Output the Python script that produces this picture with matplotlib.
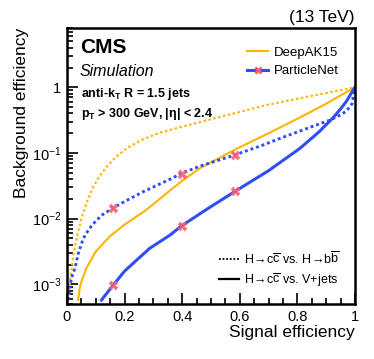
import numpy as np
import matplotlib
matplotlib.use("Agg")
import matplotlib.pyplot as plt
from matplotlib.lines import Line2D
from matplotlib.ticker import LogLocator, MultipleLocator, NullFormatter

plt.rcParams['font.family'] = ['Liberation Sans', 'DejaVu Sans']
plt.rcParams['mathtext.fontset'] = 'custom'
plt.rcParams['mathtext.rm'] = 'Liberation Sans'
plt.rcParams['mathtext.it'] = 'Liberation Sans:italic'
plt.rcParams['mathtext.bf'] = 'Liberation Sans:bold'

# values, y given as log10(efficiency)
# DeepAK15, H->cc vs H->bb (dotted)
dak_bb_x = [0.005, 0.012, 0.022, 0.036, 0.05, 0.07, 0.091, 0.112, 0.138, 0.17, 0.207, 0.26, 0.323,
            0.40, 0.462, 0.55, 0.693, 0.85, 1.0]
dak_bb_log = [-3.24, -2.9, -2.55, -2.25, -2.0, -1.74, -1.52, -1.36, -1.21, -1.06, -0.93, -0.80, -0.69,
              -0.60, -0.53, -0.43, -0.27, -0.13, 0.0]

# DeepAK15, H->cc vs V+jets (solid)
dak_vj_x = [0.039, 0.045, 0.05, 0.068, 0.10, 0.149, 0.20, 0.265, 0.30, 0.358, 0.398, 0.462, 0.497,
            0.583, 0.70, 0.809, 0.90, 1.0]
dak_vj_log = [-3.24, -3.04, -2.96, -2.75, -2.50, -2.27, -2.09, -1.90, -1.78, -1.57, -1.43, -1.23, -1.15,
              -0.95, -0.70, -0.46, -0.25, 0.0]

# ParticleNet, H->cc vs H->bb (dotted)
pn_bb_x = [0.005, 0.010, 0.016, 0.028, 0.04, 0.057, 0.075, 0.091, 0.12, 0.159, 0.20, 0.265, 0.358,
           0.398, 0.462, 0.583, 0.68, 0.751, 0.85, 0.913, 0.95, 0.971, 0.99, 1.0]
pn_bb_log = [-3.24, -3.04, -2.9, -2.75, -2.52, -2.30, -2.17, -2.08, -1.95, -1.84, -1.74, -1.59, -1.40,
             -1.31, -1.20, -1.03, -0.88, -0.76, -0.60, -0.50, -0.42, -0.36, -0.25, 0.0]

# ParticleNet, H->cc vs V+jets (solid)
pn_vj_x = [0.12, 0.159, 0.20, 0.25, 0.288, 0.358, 0.398, 0.462, 0.497, 0.583, 0.70, 0.809, 0.875,
           0.925, 0.95, 0.971, 0.99, 1.0]
pn_vj_log = [-3.24, -3.02, -2.80, -2.60, -2.45, -2.25, -2.11, -1.925, -1.825, -1.587, -1.27, -0.93, -0.68,
             -0.46, -0.33, -0.21, -0.07, 0.0]

# working points marked on the ParticleNet curves
wp_x = [0.159, 0.398, 0.583]
wp_bb_y = [0.0144, 0.0486, 0.093]
wp_vj_y = [9.6e-4, 7.8e-3, 0.0259]

yellow = '#ffb400'
blue = '#2f4ff5'
red = '#f4606e'

fig = plt.figure(figsize=(3.74, 3.59), dpi=100)
ax = fig.add_axes([0.179, 0.153, 0.770, 0.769])

ax.plot(dak_bb_x, 10 ** np.array(dak_bb_log), color=yellow, lw=1.5, linestyle=(0, (1.2, 1.2)))
ax.plot(dak_vj_x, 10 ** np.array(dak_vj_log), color=yellow, lw=1.5)
ax.plot(pn_bb_x, 10 ** np.array(pn_bb_log), color=blue, lw=2.1, linestyle=(0, (1.0, 1.0)))
ax.plot(pn_vj_x, 10 ** np.array(pn_vj_log), color=blue, lw=2.2)
ax.plot(wp_x, wp_bb_y, linestyle='none', marker='X', ms=6.5, color=red, mec='none', alpha=0.9)
ax.plot(wp_x, wp_vj_y, linestyle='none', marker='X', ms=6.5, color=red, mec='none', alpha=0.9)

ax.set_yscale('log')
ax.set_xlim(0, 1)
ax.set_ylim(5e-4, 8)

ax.xaxis.set_minor_locator(MultipleLocator(0.05))
ax.set_xticks([0, 0.2, 0.4, 0.6, 0.8, 1.0])
ax.set_xticklabels(['0', '0.2', '0.4', '0.6', '0.8', '1'])
ax.yaxis.set_minor_locator(LogLocator(base=10, subs=np.arange(2, 10), numticks=20))
ax.yaxis.set_minor_formatter(NullFormatter())
ax.set_yticks([1e-3, 1e-2, 1e-1, 1])
ax.set_yticklabels([r'$10^{-3}$', r'$10^{-2}$', r'$10^{-1}$', '1'])

ax.tick_params(which='both', direction='in', top=False, right=False, labelsize=10.5, width=1.2)
ax.tick_params(which='major', length=8, pad=4)
ax.tick_params(which='minor', length=4)
for s in ax.spines.values():
    s.set_linewidth(1.8)

ax.set_xlabel('Signal efficiency', fontsize=12.5, loc='right', labelpad=1)
ax.set_ylabel('Background efficiency', fontsize=12.5, loc='top', labelpad=2)

ax.text(1.0, 1.012, '(13 TeV)', transform=ax.transAxes, ha='right', va='bottom', fontsize=12.5)
ax.text(0.045, 0.965, 'CMS', transform=ax.transAxes, ha='left', va='top', fontsize=15, fontweight='bold')
ax.text(0.045, 0.868, 'Simulation', transform=ax.transAxes, ha='left', va='top', fontsize=11.5, style='italic')
ax.text(0.05, 0.79, r'anti-k$_\mathbf{T}$ R = 1.5 jets', transform=ax.transAxes, ha='left', va='top',
        fontsize=9, fontweight='bold')
ax.text(0.05, 0.718, r'p$_\mathbf{T}$ > 300 GeV, |η| < 2.4', transform=ax.transAxes, ha='left', va='top',
        fontsize=9, fontweight='bold')

h1 = [Line2D([], [], color=yellow, lw=1.5),
      Line2D([], [], color=blue, lw=2.2, marker='X', ms=5.5, mfc=red, mec='none')]
leg1 = ax.legend(h1, ['DeepAK15', 'ParticleNet'], loc='upper right', bbox_to_anchor=(0.985, 0.975),
                 frameon=False, fontsize=9.5, handlelength=1.6, handletextpad=0.4, labelspacing=0.45)
ax.add_artist(leg1)

h2 = [Line2D([], [], color='black', lw=1.3, linestyle=(0, (1, 1))),
      Line2D([], [], color='black', lw=1.6)]
ax.legend(h2, [r'H$\!\rightarrow\!$c$\overline{\mathrm{c}}$ vs. H$\!\rightarrow\!$b$\overline{\mathrm{b}}$',
               r'H$\!\rightarrow\!$c$\overline{\mathrm{c}}$ vs. V+jets'],
          loc='lower right', bbox_to_anchor=(0.985, 0.015), frameon=False, fontsize=9,
          handlelength=1.6, handletextpad=0.4, labelspacing=0.4)

fig.savefig('out.png', dpi=100)
